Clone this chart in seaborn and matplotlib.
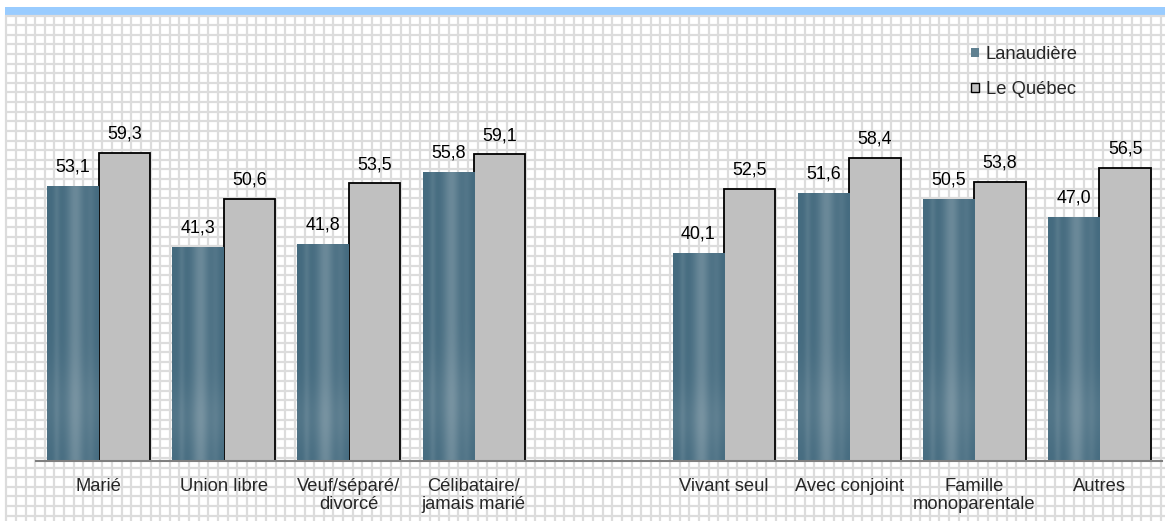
import numpy as np
import pandas as pd
import seaborn as sns
import matplotlib.pyplot as plt
from matplotlib.patches import Patch, Rectangle

categories = ["Marié", "Union libre", "Veuf/séparé/\ndivorcé", "Célibataire/\njamais marié",
              "Vivant seul", "Avec conjoint", "Famille\nmonoparentale", "Autres"]
lanaudiere = [53.1, 41.3, 41.8, 55.8, 40.1, 51.6, 50.5, 47.0]
quebec = [59.3, 50.6, 53.5, 59.1, 52.5, 58.4, 53.8, 56.5]
series = ["Lanaudière", "Le Québec"]

# empty slot between the two groups of categories
order = categories[:4] + [" "] + categories[4:]

df = pd.DataFrame({
    "cat": categories * 2,
    "serie": [series[0]] * len(categories) + [series[1]] * len(categories),
    "val": lanaudiere + quebec,
})

sns.set_style("white")
plt.rcParams["font.family"] = ["Liberation Sans", "DejaVu Sans"]

W, H = 1165, 521
fig = plt.figure(figsize=(W / 100, H / 100), dpi=100)

# background: squared paper + blue band on top
bg = fig.add_axes([0, 0, 1, 1], zorder=-5)
bg.set_xlim(0, W)
bg.set_ylim(H, 0)
bg.axis("off")
step = 9.62
bg.vlines(np.arange(6.3, W, step), 15, H, color="#dcdcdc", lw=1.6)
bg.hlines(np.arange(15.5, H, step), 5, W, color="#dcdcdc", lw=1.6)
bg.add_patch(Rectangle((5, 7), W - 5, 8, color="#99ccff", lw=0))

ax = fig.add_axes([36 / W, 60 / H, 1126 / W, 415 / H])
ax.patch.set_alpha(0)

sns.barplot(data=df, x="cat", y="val", hue="serie", order=order, hue_order=series,
            palette=["#5f8090", "#c0c0c0"], width=0.82, gap=0, legend=False,
            errorbar=None, ax=ax)

ax.set_ylim(0, 80)
xl = ax.get_xlim()

# textured fill for Lanaudière bars
xs = np.linspace(0, 1, 40)
ys = np.linspace(0, 1, 80)[:, None]
prof = (0.45 * np.exp(-((xs - 0.55) / 0.16) ** 2) + 0.2 * np.exp(-((xs - 0.18) / 0.06) ** 2)
        + 0.15 * np.exp(-((xs - 0.85) / 0.08) ** 2))
vert = 0.15 * np.exp(-((ys - 0.8) / 0.15) ** 2)
mix = np.clip(prof[None, :] + vert, 0, 1)
dark = np.array([0.27, 0.42, 0.50])
light = np.array([0.60, 0.68, 0.72])
tex = dark + mix[..., None] * (light - dark)

for bar in ax.containers[0]:
    bar.set_edgecolor("none")
    x0 = bar.get_x()
    im = ax.imshow(tex, extent=[x0, x0 + bar.get_width(), 0, bar.get_height()],
                   aspect="auto", interpolation="bilinear", zorder=bar.get_zorder() + 0.1)
    im.set_clip_path(bar)

for bar in ax.containers[1]:
    bar.set_edgecolor("black")
    bar.set_linewidth(1.3)

ax.set_xlim(xl)
ax.set_ylim(0, 80)

for cont in ax.containers:
    labs = [f"{b.get_height():.1f}".replace(".", ",") for b in cont]
    ax.bar_label(cont, labels=labs, padding=7.5, fontsize=12.9, color="black")

ax.set_xticks(range(len(order)))
ax.set_xticklabels(order, fontsize=13.2, linespacing=1.1)
ax.tick_params(axis="x", length=0, pad=12)
ax.set_yticks([])
ax.set_xlabel("")
ax.set_ylabel("")
for s in ["top", "right", "left"]:
    ax.spines[s].set_visible(False)
ax.spines["bottom"].set_color("#7f7f7f")
ax.spines["bottom"].set_linewidth(1.5)

handles = [Patch(facecolor="#5f8090", edgecolor="none", label=series[0]),
           Patch(facecolor="#c0c0c0", edgecolor="black", label=series[1])]
fig.legend(handles=handles, loc="upper left", bbox_to_anchor=(971 / W, 1 - 46 / H),
           frameon=False, fontsize=13.2, handlelength=0.45, handleheight=0.45,
           handletextpad=0.35, labelspacing=0.98, borderpad=0, borderaxespad=0)

fig.savefig("out.png", dpi=100)
